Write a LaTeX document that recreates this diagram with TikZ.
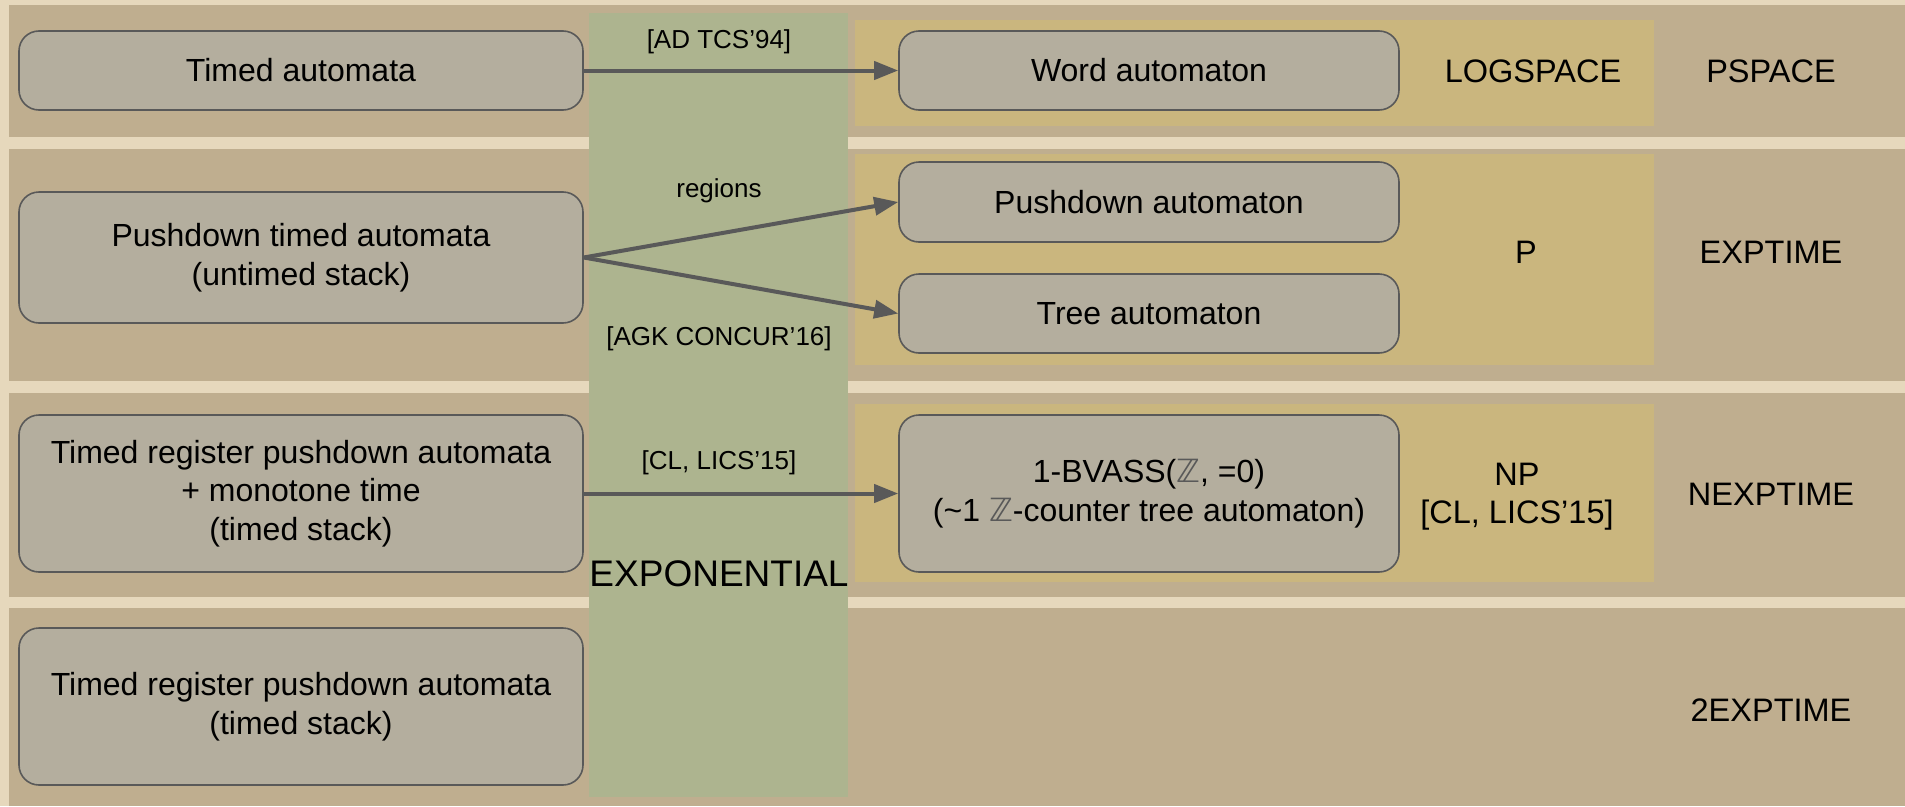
\documentclass[tikz,border=0pt]{standalone}
\usepackage{fontspec}
\setmainfont{Liberation Sans}
\newfontfamily\zfont{DejaVu Sans}
\usetikzlibrary{arrows.meta}

\definecolor{cream}{HTML}{E6D8BC}
\definecolor{band}{HTML}{BFAE8F}
\definecolor{expo}{HTML}{ADB48F}
\definecolor{gold}{HTML}{CAB67E}
\definecolor{boxfill}{HTML}{B4AE9E}
\definecolor{edge}{HTML}{595959}

\newcommand{\Zset}{{\zfont\color{edge}ℤ}}

\begin{document}
\begin{tikzpicture}[x=1pt,y=-1pt]

        \tikzstyle{automaton}=[draw=edge,line width=1.6pt,fill=boxfill,rounded corners=20pt,inner sep=0pt,align=center,font=\fontsize{32}{38.5}\selectfont]
        \tikzstyle{lhs}=[automaton,minimum width=564pt]
        \tikzstyle{rhs}=[automaton,minimum width=500pt]
        \tikzstyle{reduction}=[-{Triangle[length=24pt,width=18pt]},line width=4pt,draw=edge]
        \tikzstyle{citelabel}=[font=\fontsize{26}{31}\selectfont,anchor=base,inner sep=0pt]
        \tikzstyle{cplx}=[font=\fontsize{32.5}{38}\selectfont,align=center,inner sep=0pt]

        %% Background, bands and columns
        \fill[cream] (0,0) rectangle (1905,806);
        \fill[band] (9,5) rectangle (1905,137);
        \fill[band] (9,149) rectangle (1905,381);
        \fill[band] (9,393) rectangle (1905,597);
        \fill[band] (9,608) rectangle (1905,806);
        \fill[expo] (589,13) rectangle (848,797);
        \fill[gold] (855,20) rectangle (1654,126);
        \fill[gold] (855,154) rectangle (1654,365);
        \fill[gold] (855,404) rectangle (1654,582);

        %% Timed models
        \node[lhs,minimum height=79pt] (ta) at (301,70.5) {Timed automata};
        \node[lhs,minimum height=131pt] (pta) at (301,257.5) {Pushdown timed automata\\(untimed stack)};
        \node[lhs,minimum height=157pt] (trpm) at (301,493.5) {Timed register pushdown automata\\+ monotone time\\(timed stack)};
        \node[lhs,minimum height=157pt] (trp) at (301,706.5) {Timed register pushdown automata\\(timed stack)};

        %% Untimed models
        \node[rhs,minimum height=79pt] (word) at (1149,70.5) {Word automaton};
        \node[rhs,minimum height=80pt] (pda) at (1149,202) {Pushdown automaton};
        \node[rhs,minimum height=79pt] (tree) at (1149,313.5) {Tree automaton};
        \node[rhs,minimum height=157pt] (bvass) at (1149,493.5) {1-BVASS(\Zset, =0)\\(\textasciitilde1 \Zset-counter tree automaton)};

        %% Complexities
        \node[cplx,anchor=base] (logspace) at (1533,82) {LOGSPACE};
        \node[cplx,anchor=base] (pspace) at (1771,82) {PSPACE};
        \node[cplx,anchor=base] (ptime) at (1526,263) {P};
        \node[cplx,anchor=base] (exptime) at (1771,263) {EXPTIME};
        \node[cplx] (np) at (1517,497) {NP\\{}[CL, LICS’15]};
        \node[cplx,anchor=base] (nexptime) at (1771,505) {NEXPTIME};
        \node[cplx,anchor=base] (twoexptime) at (1771,721) {2EXPTIME};

        %% Reductions
        \draw[reduction] (ta.east) -- (word.west);
        \draw[reduction] (pta.east) -- (pda.west);
        \draw[reduction] (pta.east) -- (tree.west);
        \draw[reduction] (trpm.east) -- (bvass.west);

        \node[citelabel] (adtcs) at (719,48) {[AD TCS’94]};
        \node[citelabel] (regions) at (719,197) {regions};
        \node[citelabel] (agk) at (719,345) {[AGK CONCUR’16]};
        \node[citelabel] (cl) at (719,469) {[CL, LICS’15]};
        \node[font=\fontsize{37}{44}\selectfont,anchor=base,inner sep=0pt] (expon) at (719,586) {EXPONENTIAL};

\end{tikzpicture}
\end{document}
